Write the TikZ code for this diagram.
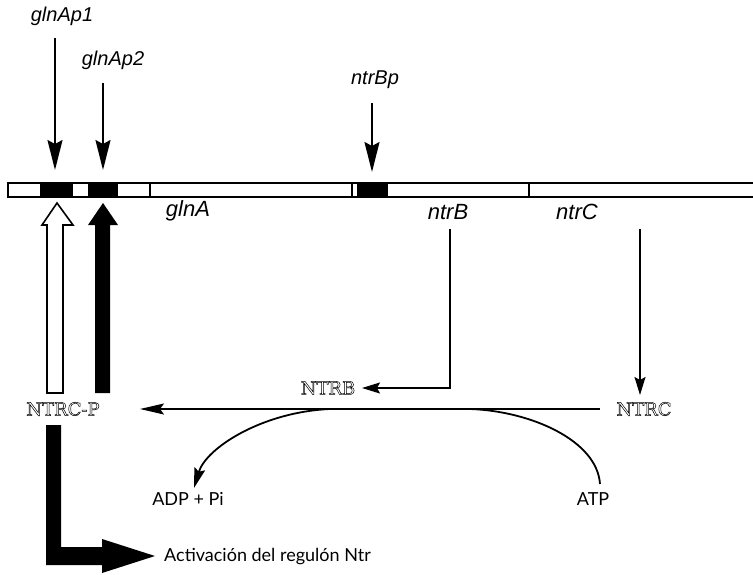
\documentclass[tikz,border=0pt]{standalone}
\usepackage{fontspec}
\setmainfont{Lato}
\newfontfamily\labelfont{Liberation Sans}
\newfontfamily\outlinefont{DejaVu Serif}
\usetikzlibrary{arrows.meta}
% hollow (stroked) lettering for the protein names
\newcommand\hollow[1]{{\outlinefont\special{pdf:code q 0.5 w 1 Tr}#1\special{pdf:code Q}}}
\tikzset{
  gene/.style={font=\labelfont\fontsize{22}{22}\selectfont\itshape, inner sep=0pt},
  prom/.style={font=\labelfont\fontsize{20}{20}\selectfont\itshape, inner sep=0pt},
  prot/.style={font=\fontsize{18}{18}\selectfont, inner sep=0pt},
  plain/.style={font=\fontsize{18}{18}\selectfont, inner sep=0pt},
  thin/.style={line width=1.6pt, -{Stealth[length=18pt,width=11pt,inset=3pt]}},
  dart/.style={line width=2pt, -{Stealth[length=30pt,width=15pt,inset=4pt]}},
  barline/.style={line width=1.4pt},
  block/.style={fill=black},
}
\begin{document}
\begin{tikzpicture}[x=1pt,y=-1pt]
\useasboundingbox (0,0) rectangle (753,574);

% gene map
\fill[block] (40,183) rectangle (73,197);
\fill[block] (88,183) rectangle (118,197);
\fill[block] (357,183) rectangle (388,197);
\draw[barline] (753,183) -- (8,183) -- (8,197) -- (753,197);
\draw[barline] (150,183) -- (150,197);
\draw[barline] (352,183) -- (352,197);
\draw[barline] (529,183) -- (529,197);

% promoters
\node[prom] (p1) at (62,16) {glnAp1};
\node[prom] (p2) at (113,60) {glnAp2};
\node[prom] (pB) at (375,80) {ntrBp};
\coordinate (p1s) at (55,38);
\coordinate (p2s) at (103,83);
\coordinate (pBs) at (372,103);
\coordinate (p1e) at (55,170);
\coordinate (p2e) at (103,170);
\coordinate (pBe) at (372,172);
\draw[dart] (p1s) -- (p1e);
\draw[dart] (p2s) -- (p2e);
\draw[dart] (pBs) -- (pBe);

% gene names
\node[gene] (glnA) at (188,211) {glnA};
\node[gene] (ntrB) at (448,212) {ntrB};
\node[gene] (ntrC) at (577,212) {ntrC};

% proteins
\node[prot] (ntrcp) at (63,409) {\hollow{NTRC-P}};
\node[prot] (ntrb) at (328,388) {\hollow{NTRB}};
\node[prot] (ntrc) at (644,409) {\hollow{NTRC}};
\node[plain] (adp) at (188,499) {ADP + Pi};
\node[plain] (atp) at (593,499) {ATP};

% expression arrows
\coordinate (bTop) at (450,229);
\coordinate (bCorner) at (450,388);
\coordinate (bEnd) at (362,388);
\draw[thin] (bTop) -- (bCorner) -- (bEnd);
\coordinate (cTop) at (640,229);
\coordinate (cEnd) at (640,395);
\draw[thin] (cTop) -- (cEnd);

% phosphorylation of NTRC
\coordinate (pStart) at (600,409);
\coordinate (pEnd) at (140,409);
\draw[thin, -{Stealth[length=24pt,width=11pt,inset=4pt]}] (pStart) -- (pEnd);
\coordinate (atpTop) at (600,484);
\coordinate (adpTip) at (194,488);
\draw[line width=1.8pt, -{Stealth[length=20pt,width=11pt,inset=3pt]}]
  (atpTop) .. controls (597,440) and (530,411) .. (470,409)
  -- (330,409) .. controls (262,412) and (206,448) .. (adpTip);

% activation by NTRC-P at the promoters
\draw[line width=1.6pt, fill=white]
  (47,393) -- (47,225) -- (42,225) -- (57,203) -- (73,225) -- (63,225) -- (63,393) -- cycle;
\fill (95,393) -- (95,225) -- (88,225) -- (103,203) -- (118,225) -- (110,225) -- (110,393) -- cycle;

% activation of the Ntr regulon
\fill (46,425) -- (61,425) -- (61,547) -- (102,547) -- (102,539) -- (155,556)
  -- (102,573) -- (102,565) -- (46,565) -- cycle;
\node[plain, anchor=west] (reg) at (164,557) {Activación del regulón Ntr};
\end{tikzpicture}
\end{document}
